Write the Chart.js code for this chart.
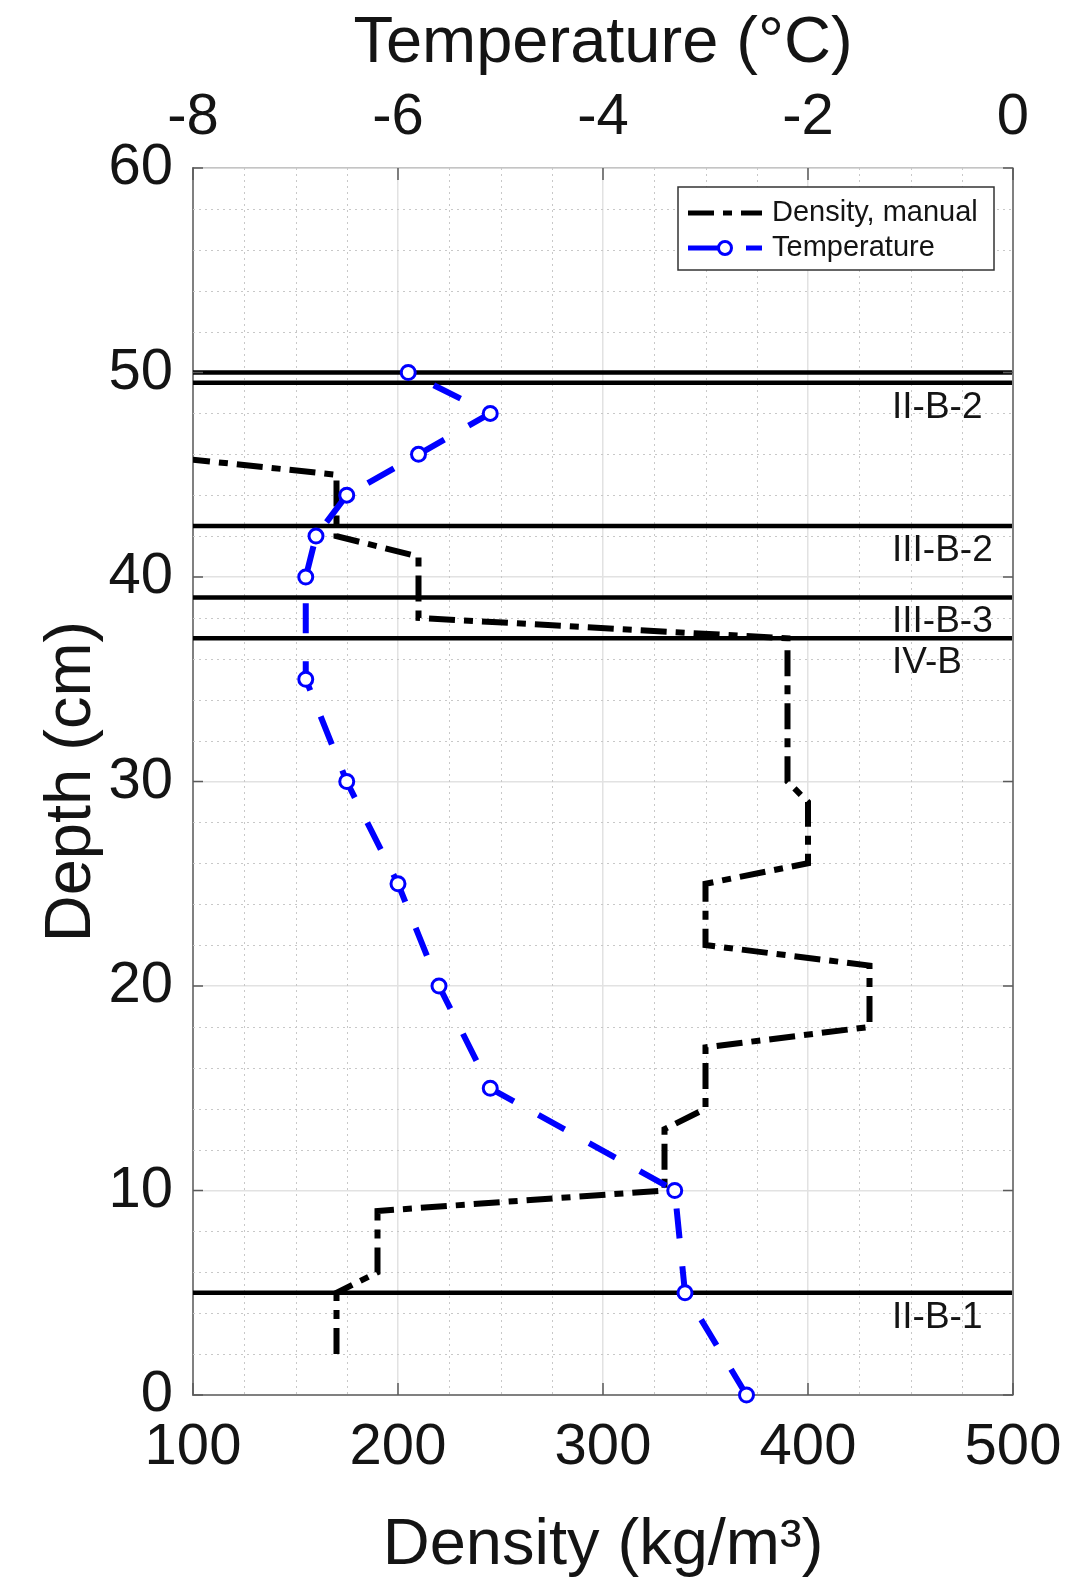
<!DOCTYPE html>
<html>
<head>
<meta charset="utf-8">
<script src="https://cdn.jsdelivr.net/npm/chart.js@4/dist/chart.umd.min.js"></script>
<style>
html, body { margin: 0; padding: 0; background: #fff; }
</style>
</head>
<body>
<canvas id="graficoPerfil" width="1072" height="1582"></canvas>
<script>
// density profile (manual), depth in cm
var densityDepth = [2, 5, 6, 9, 10, 13, 14, 17, 18, 21, 22, 25, 26, 29, 30, 37, 38, 41, 42, 45, 46];
var densityValue = [170, 170, 190, 190, 330, 330, 350, 350, 430, 430, 350, 350, 400, 400, 390, 390, 210, 210, 170, 170, 75];

// temperature profile
var tempDepth = [0, 5, 10, 15, 20, 25, 30, 35, 40, 42, 44, 46, 48, 50];
var tempValue = [-2.6, -3.2, -3.3, -5.1, -5.6, -6.0, -6.5, -6.9, -6.9, -6.8, -6.5, -5.8, -5.1, -5.9];

// layer boundaries and their names
var layerDepth = [50, 49.5, 42.5, 39, 37, 5];
var layerLabel = ['', 'II-B-2', 'III-B-2', 'III-B-3', 'IV-B', 'II-B-1'];

// axes
var densityRange = [100, 500];
var tempRange = [-8, 0];
var depthRange = [0, 60];
var densityStep = 100, tempStep = 2, depthStep = 10;
var densityMinor = 25, depthMinor = 2;

var legendNames = ['Density, manual', 'Temperature'];

var fonte = "'Liberation Sans', Arial, Helvetica, sans-serif";
Chart.defaults.font.family = fonte;
Chart.defaults.color = '#141414';

function pontos(xs, ys) {
	return xs.map(function(v, i) { return { x: v, y: ys[i] }; });
}

var datasets = [{
	label: legendNames[1],
	data: pontos(tempValue, tempDepth),
	xAxisID: 'x2',
	yAxisID: 'y',
	showLine: true,
	borderColor: '#0000ff',
	borderWidth: 6,
	borderDash: [30, 28],
	borderCapStyle: 'butt',
	pointRadius: 7,
	pointBorderWidth: 3,
	pointBorderColor: '#0000ff',
	pointBackgroundColor: '#ffffff',
	clip: false
}, {
	label: legendNames[0],
	data: pontos(densityValue, densityDepth),
	xAxisID: 'x',
	yAxisID: 'y',
	showLine: true,
	borderColor: '#000000',
	borderWidth: 6,
	borderDash: [26, 9, 9, 9],
	borderCapStyle: 'butt',
	borderJoinStyle: 'miter',
	pointRadius: 0
}];

layerDepth.forEach(function(d) {
	datasets.push({
		label: '',
		data: [{ x: densityRange[0], y: d }, { x: densityRange[1], y: d }],
		xAxisID: 'x',
		yAxisID: 'y',
		showLine: true,
		borderColor: '#000000',
		borderWidth: 4.5,
		pointRadius: 0
	});
});

var extras = {
	id: 'extras',
	beforeDatasetsDraw: function(chart) {
		var ctx = chart.ctx, a = chart.chartArea, x = chart.scales.x, y = chart.scales.y;
		ctx.save();
		ctx.strokeStyle = '#c8c8c8';
		ctx.lineWidth = 1;
		ctx.setLineDash([2, 4]);
		var v, p;
		for (v = depthRange[0]; v <= depthRange[1]; v += depthMinor) {
			if (v % depthStep === 0) continue;
			p = Math.round(y.getPixelForValue(v)) + 0.5;
			ctx.beginPath(); ctx.moveTo(a.left, p); ctx.lineTo(a.right, p); ctx.stroke();
		}
		for (v = densityRange[0]; v <= densityRange[1]; v += densityMinor) {
			if (v % densityStep === 0) continue;
			p = Math.round(x.getPixelForValue(v)) + 0.5;
			ctx.beginPath(); ctx.moveTo(p, a.top); ctx.lineTo(p, a.bottom); ctx.stroke();
		}
		ctx.restore();
	},
	afterDatasetsDraw: function(chart) {
		var ctx = chart.ctx, a = chart.chartArea, y = chart.scales.y, x = chart.scales.x, x2 = chart.scales.x2;
		ctx.save();

		// right edge of the box
		ctx.strokeStyle = '#808080';
		ctx.lineWidth = 2;
		ctx.beginPath(); ctx.moveTo(a.right, a.top); ctx.lineTo(a.right, a.bottom); ctx.stroke();

		// inward tick marks
		ctx.strokeStyle = '#5a5a5a';
		ctx.lineWidth = 1.5;
		y.ticks.forEach(function(t) {
			var p = y.getPixelForValue(t.value);
			ctx.beginPath(); ctx.moveTo(a.left, p); ctx.lineTo(a.left + 10, p); ctx.stroke();
			ctx.beginPath(); ctx.moveTo(a.right, p); ctx.lineTo(a.right - 10, p); ctx.stroke();
		});
		x.ticks.forEach(function(t) {
			var p = x.getPixelForValue(t.value);
			ctx.beginPath(); ctx.moveTo(p, a.bottom); ctx.lineTo(p, a.bottom - 12); ctx.stroke();
		});
		x2.ticks.forEach(function(t) {
			var p = x2.getPixelForValue(t.value);
			ctx.beginPath(); ctx.moveTo(p, a.top); ctx.lineTo(p, a.top + 12); ctx.stroke();
		});

		// layer names
		ctx.fillStyle = '#141414';
		ctx.font = '37px ' + fonte;
		ctx.textAlign = 'left';
		ctx.textBaseline = 'alphabetic';
		layerDepth.forEach(function(d, i) {
			if (!layerLabel[i]) return;
			ctx.fillText(layerLabel[i], a.right - 121, y.getPixelForValue(d) + 35);
		});

		// legend
		var lx = a.right - 335, ly = a.top + 19, lw = 316, lh = 83;
		ctx.fillStyle = '#ffffff';
		ctx.fillRect(lx, ly, lw, lh);
		ctx.strokeStyle = '#333333';
		ctx.lineWidth = 1.5;
		ctx.strokeRect(lx, ly, lw, lh);

		var y1 = ly + 26, y2 = ly + 61;
		ctx.lineCap = 'butt';
		ctx.lineWidth = 5;
		ctx.strokeStyle = '#000000';
		ctx.setLineDash([26, 9, 9, 9]);
		ctx.beginPath(); ctx.moveTo(lx + 10, y1); ctx.lineTo(lx + 84, y1); ctx.stroke();
		ctx.strokeStyle = '#0000ff';
		ctx.setLineDash([30, 28]);
		ctx.beginPath(); ctx.moveTo(lx + 10, y2); ctx.lineTo(lx + 84, y2); ctx.stroke();
		ctx.setLineDash([]);
		ctx.lineWidth = 3;
		ctx.fillStyle = '#ffffff';
		ctx.beginPath(); ctx.arc(lx + 47, y2, 6.5, 0, Math.PI * 2); ctx.fill(); ctx.stroke();

		ctx.fillStyle = '#141414';
		ctx.font = '29px ' + fonte;
		ctx.textBaseline = 'middle';
		ctx.fillText(legendNames[0], lx + 94, y1);
		ctx.fillText(legendNames[1], lx + 94, y2);
		ctx.restore();
	}
};

var grafico = new Chart(document.getElementById('graficoPerfil').getContext('2d'), {
	type: 'scatter',
	data: { datasets: datasets },
	plugins: [extras],
	options: {
		responsive: false,
		animation: false,
		events: [],
		layout: { padding: { left: 0, right: 59, top: 0, bottom: 0 } },
		plugins: {
			legend: { display: false },
			tooltip: { enabled: false }
		},
		scales: {
			x: {
				type: 'linear',
				position: 'bottom',
				min: densityRange[0],
				max: densityRange[1],
				afterFit: function(s) { s.height = 187; },
				ticks: { stepSize: densityStep, padding: 0, font: { size: 58, lineHeight: 1.83 }, maxRotation: 0 },
				grid: { color: '#e2e2e2', lineWidth: 1.5, drawTicks: false },
				border: { color: '#808080', width: 2 },
				title: { display: true, text: 'Density (kg/m³)', font: { size: 65, lineHeight: 1 }, padding: { top: 0, bottom: 3 }, color: '#141414' }
			},
			x2: {
				type: 'linear',
				position: 'top',
				min: tempRange[0],
				max: tempRange[1],
				afterFit: function(s) { s.height = 168; },
				ticks: { stepSize: tempStep, padding: 0, font: { size: 58, lineHeight: 1.72 }, maxRotation: 0 },
				grid: { drawOnChartArea: false, drawTicks: false },
				border: { color: '#c4c4c4', width: 1.5 },
				title: { display: true, text: 'Temperature (°C)', font: { size: 65, lineHeight: 1 }, padding: { top: 12, bottom: 0 }, color: '#141414' }
			},
			y: {
				type: 'linear',
				position: 'left',
				min: depthRange[0],
				max: depthRange[1],
				afterFit: function(s) { s.width = 193; },
				ticks: { stepSize: depthStep, padding: 20, font: { size: 58, lineHeight: 1 } },
				grid: { color: '#e2e2e2', lineWidth: 1.5, drawTicks: false },
				border: { color: '#808080', width: 2 },
				title: { display: true, text: 'Depth (cm)', font: { size: 65, lineHeight: 1 }, padding: { top: 40, bottom: 0 }, color: '#141414' }
			}
		}
	}
});
</script>
</body>
</html>
